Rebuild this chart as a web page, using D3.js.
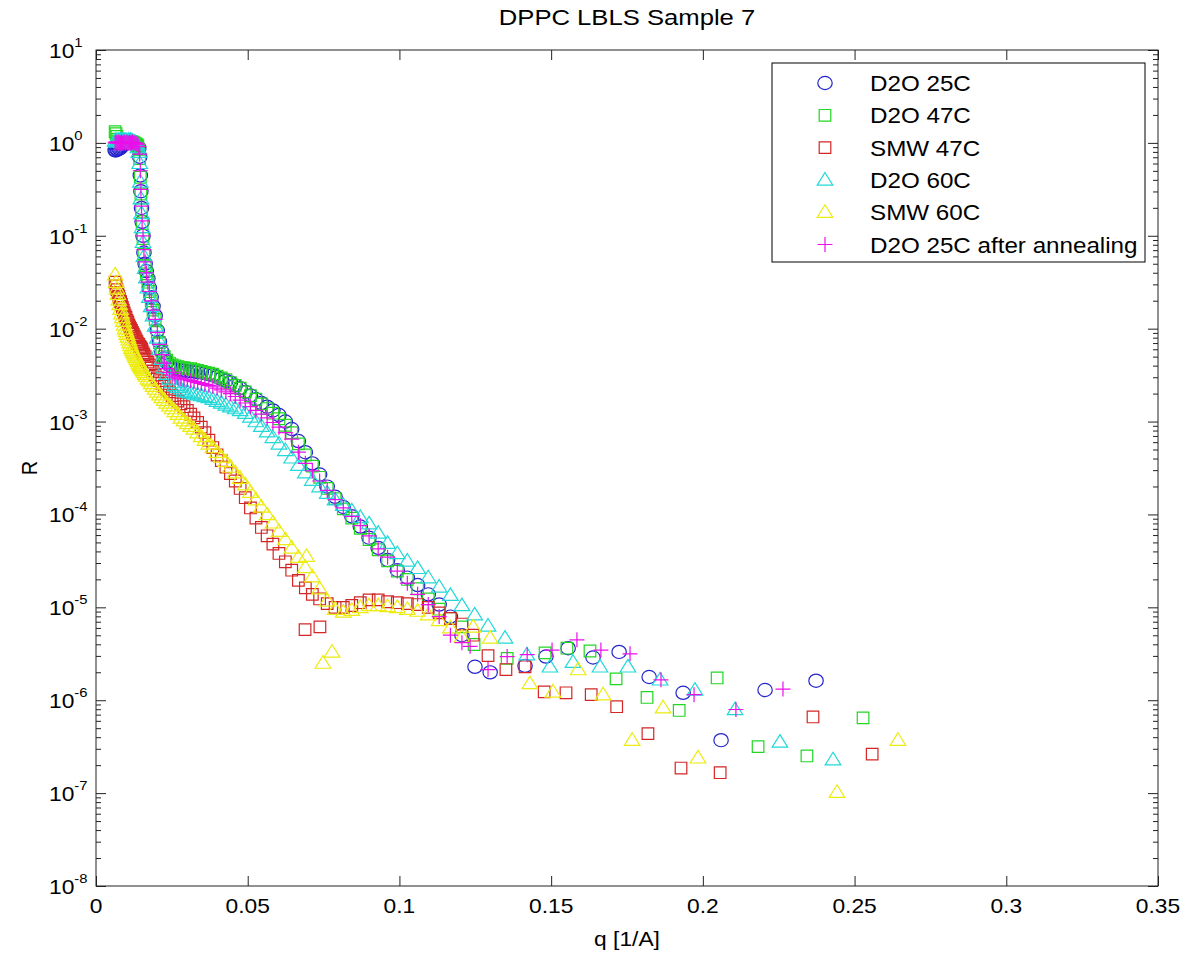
<!DOCTYPE html>
<html>
<head>
<meta charset="utf-8">
<script src="https://cdn.jsdelivr.net/npm/d3@7"></script>
<style>
  body { margin: 0; background: #fff; }
  svg { display: block; font-family: "Liberation Sans", Arial, sans-serif; }
</style>
</head>
<body>
<svg id="chart" width="1181" height="954"></svg>
<script>
// q grid [1/A] shared by the densely sampled low-q part of every run
const qGrid = [0.0063, 0.0066, 0.0069, 0.0072, 0.0075, 0.0078, 0.0081, 0.0084, 0.0087, 0.0090,
  0.0093, 0.0096, 0.0099, 0.0102, 0.0105, 0.0108, 0.0111, 0.0114, 0.0117, 0.0120,
  0.0123, 0.0126, 0.0129, 0.0132, 0.0135, 0.0138,
  0.0141, 0.0144, 0.0146, 0.0148, 0.0150,
  0.0152, 0.0155, 0.0158, 0.0162, 0.0166, 0.0171, 0.0176, 0.0182, 0.0188, 0.0195,
  0.0202, 0.0209, 0.0217, 0.0225, 0.0233, 0.0242, 0.0251, 0.0260, 0.0270, 0.0280,
  0.0290, 0.0301, 0.0312, 0.0323, 0.0335, 0.0347, 0.0359, 0.0372, 0.0385, 0.0399,
  0.0413, 0.0428, 0.0443, 0.0459, 0.0475, 0.0492, 0.0509, 0.0527, 0.0545, 0.0564,
  0.0583, 0.0603, 0.0624, 0.0645, 0.0667, 0.0690, 0.0713, 0.0737, 0.0762, 0.0788,
  0.0815, 0.0843, 0.0871, 0.0900, 0.0930, 0.0961, 0.0993, 0.1026, 0.1060, 0.1095,
  0.1131, 0.1168, 0.1206];

// log10(R) on qGrid
const logD2O25 = [-0.08, -0.08, -0.07, -0.07, -0.06, -0.06, -0.05, -0.04, -0.03, -0.02,
  0.00, 0.01, 0.00, 0.01, 0.00, 0.01, 0.00, 0.00, 0.01, 0.00,
  0.00, -0.01, -0.01, -0.02, -0.03, -0.04,
  -0.06, -0.15, -0.35, -0.52, -0.70,
  -0.85, -1.00, -1.18, -1.30, -1.38, -1.46, -1.56, -1.66, -1.76, -1.86,
  -2.02, -2.14, -2.25, -2.32, -2.36, -2.39, -2.41, -2.43, -2.44, -2.45,
  -2.45, -2.46, -2.46, -2.46, -2.47, -2.47, -2.48, -2.49, -2.50, -2.52,
  -2.54, -2.56, -2.58, -2.61, -2.64, -2.68, -2.72, -2.76, -2.80, -2.84,
  -2.88, -2.93, -3.00, -3.08, -3.21, -3.33, -3.45, -3.57, -3.70, -3.81,
  -3.92, -4.02, -4.13, -4.25, -4.36, -4.49, -4.60, -4.68, -4.76, -4.86,
  -4.97, -5.10, -5.30];

const logD2O47 = [0.12, 0.10, 0.07, 0.04, 0.02, 0.01, 0.02, 0.01, 0.02, 0.01,
  0.02, 0.01, 0.02, 0.01, 0.02, 0.01, 0.02, 0.01, 0.01, 0.01,
  0.00, 0.00, -0.01, -0.01, -0.02, -0.03,
  -0.07, -0.17, -0.37, -0.55, -0.72,
  -0.87, -1.03, -1.20, -1.32, -1.41, -1.50, -1.60, -1.70, -1.80, -1.90,
  -2.04, -2.15, -2.24, -2.30, -2.34, -2.37, -2.39, -2.40, -2.41, -2.42,
  -2.42, -2.43, -2.43, -2.44, -2.45, -2.46, -2.47, -2.48, -2.49, -2.51,
  -2.53, -2.55, -2.58, -2.61, -2.64, -2.68, -2.72, -2.76, -2.81, -2.86,
  -2.91, -2.97, -3.04, -3.12, -3.24, -3.36, -3.48, -3.60, -3.72, -3.83,
  -3.94, -4.04, -4.15, -4.27, -4.38, -4.50, -4.61, -4.70, -4.80, -4.91,
  -5.02, -5.12, -5.21];

const logSMW47 = [-1.50, -1.54, -1.58, -1.61, -1.65, -1.68, -1.71, -1.74, -1.77, -1.80,
  -1.83, -1.86, -1.88, -1.91, -1.93, -1.96, -1.98, -2.00, -2.02, -2.04,
  -2.06, -2.08, -2.10, -2.12, -2.14, -2.16,
  -2.17, -2.19, -2.20, -2.21, -2.22,
  -2.24, -2.26, -2.28, -2.30, -2.33, -2.36, -2.39, -2.42, -2.46, -2.50,
  -2.53, -2.56, -2.59, -2.62, -2.65, -2.68, -2.72, -2.75, -2.78, -2.81,
  -2.84, -2.88, -2.92, -2.96, -3.01, -3.06, -3.12, -3.20, -3.28, -3.36,
  -3.42, -3.49, -3.56, -3.64, -3.72, -3.82, -3.93, -4.04, -4.14, -4.23,
  -4.32, -4.42, -4.51, -4.60, -4.71, -4.79, -4.86, -4.91, -4.96, -5.00,
  -5.00, -4.98, -4.95, -4.92, -4.92, -4.94, -4.95, -4.96, -4.97, -5.00,
  -5.06, -5.12, -5.18];

const logD2O60 = [0.02, 0.03, 0.01, 0.02, 0.03, 0.02, 0.03, 0.02, 0.03, 0.02,
  0.03, 0.02, 0.03, 0.02, 0.02, 0.03, 0.02, 0.03, 0.02, 0.02,
  0.01, 0.01, 0.00, -0.01, -0.02, -0.05,
  -0.10, -0.22, -0.42, -0.60, -0.76,
  -0.91, -1.07, -1.22, -1.35, -1.45, -1.56, -1.66, -1.76, -1.86, -1.97,
  -2.10, -2.22, -2.33, -2.42, -2.49, -2.54, -2.58, -2.61, -2.63, -2.65,
  -2.67, -2.68, -2.69, -2.70, -2.71, -2.72, -2.73, -2.74, -2.76, -2.78,
  -2.80, -2.82, -2.84, -2.86, -2.88, -2.91, -2.95, -3.00, -3.05, -3.11,
  -3.17, -3.24, -3.31, -3.39, -3.47, -3.55, -3.63, -3.70, -3.77, -3.84,
  -3.90, -3.96, -4.03, -4.10, -4.20, -4.31, -4.42, -4.50, -4.58, -4.68,
  -4.78, -4.87, -4.98];

const logSMW60 = [-1.42, -1.50, -1.57, -1.63, -1.69, -1.74, -1.79, -1.84, -1.88, -1.92,
  -1.96, -2.00, -2.03, -2.06, -2.09, -2.12, -2.15, -2.18, -2.21, -2.23,
  -2.25, -2.27, -2.29, -2.31, -2.33, -2.35,
  -2.37, -2.39, -2.40, -2.41, -2.42,
  -2.43, -2.45, -2.47, -2.49, -2.51, -2.54, -2.56, -2.59, -2.62, -2.65,
  -2.68, -2.71, -2.74, -2.77, -2.80, -2.83, -2.86, -2.89, -2.92, -2.96,
  -2.99, -3.02, -3.05, -3.08, -3.12, -3.16, -3.20, -3.24, -3.28, -3.33,
  -3.38, -3.43, -3.49, -3.55, -3.61, -3.68, -3.76, -3.84, -3.92, -4.00,
  -4.09, -4.18, -4.27, -4.36, -4.46, -4.57, -4.67, -4.80, -4.93, -5.02,
  -5.05, -5.03, -5.00, -4.98, -4.98, -4.99, -5.00, -5.02, -5.04, -5.08,
  -5.14, -5.22, -5.32];

const logD2O25ann = [0.00, 0.01, 0.00, 0.00, 0.01, 0.00, 0.00, 0.01, 0.00, 0.00,
  0.01, 0.00, 0.00, 0.01, 0.00, 0.00, 0.01, 0.00, 0.00, 0.01,
  0.00, 0.00, 0.00, -0.01, -0.01, -0.02,
  -0.04, -0.12, -0.30, -0.50, -0.68,
  -0.84, -1.00, -1.15, -1.28, -1.40, -1.50, -1.60, -1.70, -1.80, -1.90,
  -2.04, -2.17, -2.28, -2.37, -2.43, -2.47, -2.50, -2.52, -2.53, -2.54,
  -2.55, -2.55, -2.56, -2.57, -2.58, -2.59, -2.60, -2.61, -2.62, -2.64,
  -2.66, -2.68, -2.70, -2.73, -2.77, -2.80, -2.84, -2.88, -2.92, -2.96,
  -3.01, -3.06, -3.12, -3.19, -3.33, -3.45, -3.53, -3.64, -3.74, -3.84,
  -3.93, -4.02, -4.12, -4.23, -4.37, -4.46, -4.61, -4.74, -4.86, -4.97,
  -5.10, -5.30, -5.38];

// sparse high-q points (and a few strays) of each run: q and log10(R)
const qD2O25Extra = [0.1249, 0.1299, 0.1414, 0.1483, 0.1556, 0.1638, 0.1724, 0.1823, 0.1935, 0.2060, 0.2205, 0.2373];
const logD2O25Extra = [-5.64, -5.70, -5.63, -5.53, -5.44, -5.54, -5.48, -5.75, -5.92, -6.43, -5.89, -5.79];

const qD2O47Extra = [0.1246, 0.1355, 0.1480, 0.1552, 0.1628, 0.1714, 0.1816, 0.1922, 0.2047, 0.2182, 0.2343, 0.2528];
const logD2O47Extra = [-5.40, -5.55, -5.49, -5.44, -5.47, -5.77, -5.97, -6.11, -5.76, -6.50, -6.60, -6.19];

const qSMW47Extra = [0.0689, 0.0738, 0.1243, 0.1292, 0.1351, 0.1414, 0.1477, 0.1549, 0.1632, 0.1716, 0.1819, 0.1928, 0.2057, 0.2363, 0.2558];
const logSMW47Extra = [-5.24, -5.21, -5.30, -5.52, -5.67, -5.64, -5.91, -5.92, -5.94, -6.07, -6.36, -6.73, -6.78, -6.18, -6.58];

const qD2O60Extra = [0.1248, 0.1292, 0.1348, 0.1420, 0.1496, 0.1572, 0.1661, 0.1753, 0.1859, 0.1974, 0.2106, 0.2254, 0.2429];
const logD2O60Extra = [-5.08, -5.20, -5.33, -5.51, -5.64, -5.59, -5.64, -5.64, -5.78, -5.89, -6.10, -6.45, -6.64];

const qSMW60Extra = [0.0694, 0.0748, 0.0778, 0.1243, 0.1299, 0.1430, 0.1506, 0.1589, 0.1671, 0.1767, 0.1869, 0.1984, 0.2442, 0.2643];
const logSMW60Extra = [-4.45, -5.60, -5.48, -5.21, -5.33, -5.82, -5.91, -5.67, -5.94, -6.43, -6.08, -6.62, -6.99, -6.43];

const qD2O25annExtra = [0.1233, 0.1292, 0.1355, 0.1421, 0.1503, 0.1585, 0.1664, 0.1760, 0.1862, 0.1971, 0.2109, 0.2264];
const logD2O25annExtra = [-5.42, -5.67, -5.53, -5.51, -5.46, -5.35, -5.46, -5.50, -5.78, -5.94, -6.10, -5.88];

const seriesNames = ["D2O 25C", "D2O 47C", "SMW 47C", "D2O 60C", "SMW 60C", "D2O 25C after annealing"];
const seriesColors = ["#2424cc", "#22d622", "#d42626", "#22d8d8", "#ecec10", "#ea10ea"];
const seriesSymbols = ["circle", "square", "square", "triangle", "triangle", "plus"];
const xTicks = [0, 0.05, 0.1, 0.15, 0.2, 0.25, 0.3, 0.35];
const xTickLabels = ["0", "0.05", "0.1", "0.15", "0.2", "0.25", "0.3", "0.35"];
const yExponents = [-8, -7, -6, -5, -4, -3, -2, -1, 0, 1];

const denseLogs = [logD2O25, logD2O47, logSMW47, logD2O60, logSMW60, logD2O25ann];
const extraQ = [qD2O25Extra, qD2O47Extra, qSMW47Extra, qD2O60Extra, qSMW60Extra, qD2O25annExtra];
const extraLogs = [logD2O25Extra, logD2O47Extra, logSMW47Extra, logD2O60Extra, logSMW60Extra, logD2O25annExtra];

const series = seriesNames.map((name, i) => ({
  name,
  color: seriesColors[i],
  symbol: seriesSymbols[i],
  points: qGrid.map((q, j) => ({ q, r: Math.pow(10, denseLogs[i][j]) }))
    .concat(extraQ[i].map((q, j) => ({ q, r: Math.pow(10, extraLogs[i][j]) })))
    .filter(d => isFinite(d.r))
}));

const W = 1181, H = 954;
const mLeft = 96, mRight = 1158, mTop = 50, mBottom = 886;
const stretch = 1.14;  // the picture is wider than tall, text too

const svg = d3.select("#chart");
svg.append("rect").attr("width", W).attr("height", H).attr("fill", "#fff");

const x = d3.scaleLinear().domain([0, 0.35]).range([mLeft, mRight]);
const y = d3.scaleLog().domain([1e-8, 10]).range([mBottom, mTop]);

// marker shapes centred on 0,0
const shapes = {
  circle: "M-7.2,0a7.2,6.6 0 1,0 14.4,0a7.2,6.6 0 1,0 -14.4,0",
  square: "M-5.8,-5.8h11.6v11.6h-11.6z",
  triangle: "M0,-7.4L7.8,5.2H-7.8Z",
  plus: "M-7.5,0H7.5M0,-7.5V7.5"
};

svg.append("defs").append("clipPath").attr("id", "plotclip")
  .append("rect").attr("x", mLeft).attr("y", mTop)
  .attr("width", mRight - mLeft).attr("height", mBottom - mTop);

const plot = svg.append("g").attr("clip-path", "url(#plotclip)");

series.forEach(s => {
  plot.append("g")
    .selectAll("path")
    .data(s.points)
    .join("path")
    .attr("d", shapes[s.symbol])
    .attr("transform", d => `translate(${x(d.q)},${y(d.r)})`)
    .attr("fill", "none")
    .attr("stroke", s.color)
    .attr("stroke-width", 1.2);
});

// axes: ticks point inward on all four sides
const axisColor = "#222";
const minorVals = [];
yExponents.slice(0, -1).forEach(e => {
  for (let k = 2; k <= 9; k++) minorVals.push(k * Math.pow(10, e));
});
const majorVals = yExponents.map(e => Math.pow(10, e));

function styleAxis(g) {
  g.select(".domain").remove();
  g.selectAll("line").attr("stroke", axisColor).attr("stroke-width", 1);
  g.selectAll("text").remove();
}

svg.append("g").attr("transform", `translate(0,${mBottom})`)
  .call(d3.axisBottom(x).tickValues(xTicks).tickSizeInner(-10).tickSizeOuter(0)).call(styleAxis);
svg.append("g").attr("transform", `translate(0,${mTop})`)
  .call(d3.axisTop(x).tickValues(xTicks).tickSizeInner(-10).tickSizeOuter(0)).call(styleAxis);
svg.append("g").attr("transform", `translate(${mLeft},0)`)
  .call(d3.axisLeft(y).tickValues(majorVals).tickSizeInner(-10).tickSizeOuter(0)).call(styleAxis);
svg.append("g").attr("transform", `translate(${mLeft},0)`)
  .call(d3.axisLeft(y).tickValues(minorVals).tickSizeInner(-5).tickSizeOuter(0)).call(styleAxis);
svg.append("g").attr("transform", `translate(${mRight},0)`)
  .call(d3.axisRight(y).tickValues(majorVals).tickSizeInner(-10).tickSizeOuter(0)).call(styleAxis);
svg.append("g").attr("transform", `translate(${mRight},0)`)
  .call(d3.axisRight(y).tickValues(minorVals).tickSizeInner(-5).tickSizeOuter(0)).call(styleAxis);

svg.append("rect")
  .attr("x", mLeft).attr("y", mTop)
  .attr("width", mRight - mLeft).attr("height", mBottom - mTop)
  .attr("fill", "none").attr("stroke", axisColor).attr("stroke-width", 1);

// tick labels
svg.append("g").selectAll("text")
  .data(xTicks)
  .join("text")
  .attr("transform", d => `translate(${x(d)},913) scale(${stretch},1)`)
  .attr("text-anchor", "middle")
  .attr("font-size", 20)
  .attr("fill", "#000")
  .text((d, i) => xTickLabels[i]);

const yLab = svg.append("g").selectAll("text")
  .data(yExponents)
  .join("text")
  .attr("transform", d => `translate(49,${y(Math.pow(10, d)) + 8}) scale(${stretch},1)`)
  .attr("font-size", 20)
  .attr("fill", "#000");
yLab.append("tspan").text("10");
yLab.append("tspan").attr("font-size", 13).attr("dy", -11).text(d => String(d));

// title and axis labels
svg.append("text")
  .attr("transform", `translate(627,25) scale(${stretch},1)`)
  .attr("text-anchor", "middle").attr("font-size", 22.5).attr("fill", "#000")
  .text("DPPC LBLS Sample 7");
svg.append("text")
  .attr("transform", `translate(627,946) scale(${stretch},1)`)
  .attr("text-anchor", "middle").attr("font-size", 20).attr("fill", "#000")
  .text("q [1/A]");
svg.append("text")
  .attr("transform", `translate(37,468) rotate(-90) scale(1,${stretch})`)
  .attr("text-anchor", "middle").attr("font-size", 20).attr("fill", "#000")
  .text("R");

// legend
const legX = 772, legY = 63, legW = 373, legH = 199, rowH = 32.3;
const leg = svg.append("g");
leg.append("rect")
  .attr("x", legX).attr("y", legY).attr("width", legW).attr("height", legH)
  .attr("fill", "#fff").attr("stroke", "#000").attr("stroke-width", 1);
const items = leg.selectAll("g.item")
  .data(series)
  .join("g")
  .attr("class", "item")
  .attr("transform", (d, i) => `translate(${legX},${legY + 20 + i * rowH})`);
items.append("path")
  .attr("d", d => shapes[d.symbol])
  .attr("transform", "translate(53,0)")
  .attr("fill", "none")
  .attr("stroke", d => d.color)
  .attr("stroke-width", 1.2);
items.append("text")
  .attr("transform", `translate(98,8) scale(1.1,1)`)
  .attr("font-size", 22)
  .attr("fill", "#000")
  .text(d => d.name);
</script>
</body>
</html>
